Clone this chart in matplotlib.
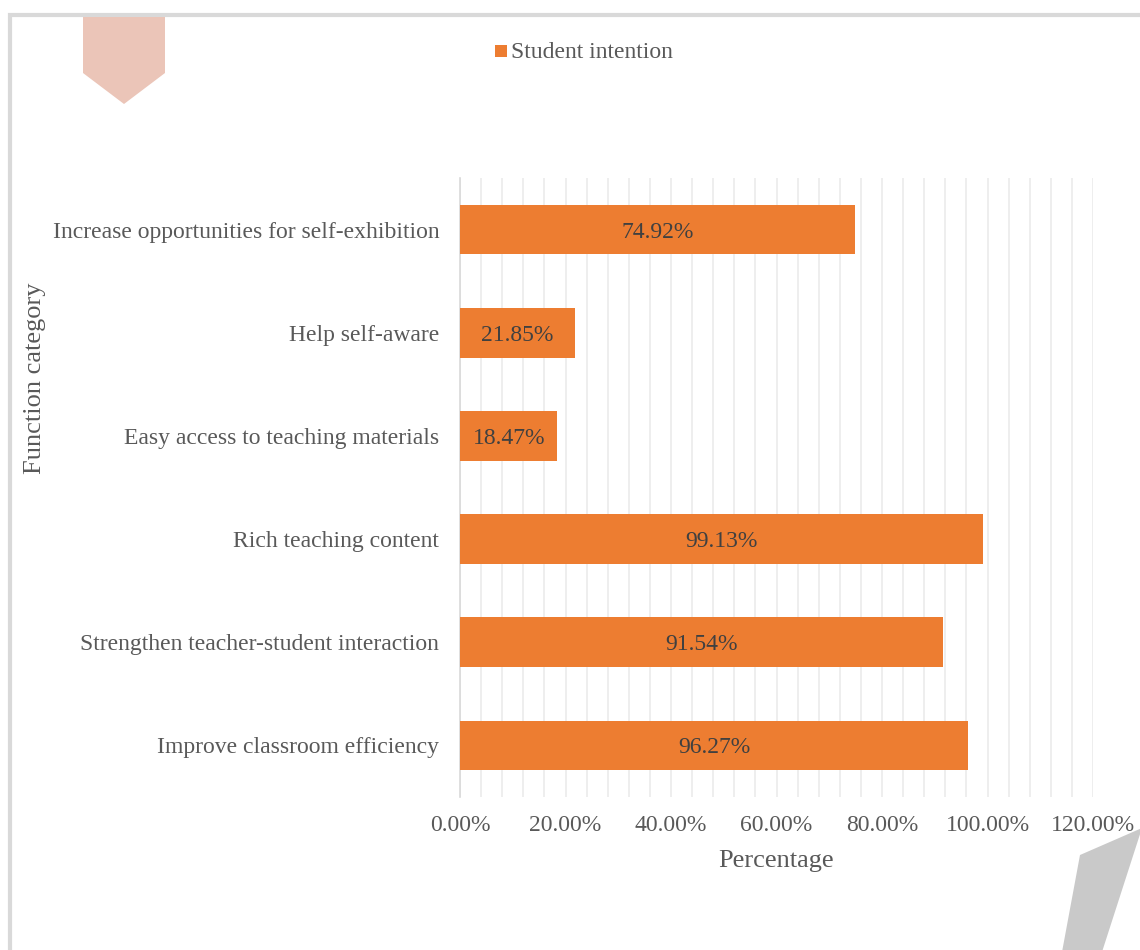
import matplotlib.pyplot as plt
from   matplotlib.patches import Polygon, Rectangle
from   matplotlib.ticker  import MultipleLocator, FuncFormatter

categories = ['Increase opportunities for self-exhibition',
              'Help self-aware',
              'Easy access to teaching materials',
              'Rich teaching content',
              'Strengthen teacher-student interaction',
              'Improve classroom efficiency']
values     = [74.92, 21.85, 18.47, 99.13, 91.54, 96.27]
series     = 'Student intention'

W, H   = 1140, 950
orange = '#ED7D31'
grey   = '#595959'

plt.rcParams['font.family'] = ['Liberation Serif', 'DejaVu Serif']

fig = plt.figure( figsize=(W/100, H/100), dpi=100 )

def px(x, y):
    '''pixel coords (top-left origin) -> figure fraction'''
    return x/W, 1 - y/H

# frame and decorative shapes
fig.patches.append( Rectangle( px(10, 1000), 1200/W, 985/H,
                               transform=fig.transFigure,
                               fill=False, edgecolor='#D9D9D9', linewidth=3 ) )
fig.patches.append( Polygon( [px(83, 17), px(165, 17), px(165, 73),
                              px(124, 104), px(83, 73)],
                             closed=True, transform=fig.transFigure,
                             facecolor='#EBC5B8', edgecolor='none' ) )
fig.patches.append( Polygon( [px(1142, 828), px(1080, 855), px(1062, 952),
                              px(1102, 952)],
                             closed=True, transform=fig.transFigure,
                             facecolor='#C9C9C9', edgecolor='none' ) )

ax = fig.add_axes( [460/W, 1 - 797/H, 633/W, 619/H] )

bars = ax.barh( categories, values, height=0.48, color=orange,
                label=series, zorder=3 )
for b, v in zip( bars, values ):
    ax.text( b.get_width()/2, b.get_y() + b.get_height()/2, f'{v:.2f}%',
             ha='center', va='center_baseline', fontsize=17, color='#404040',
             zorder=4 )

ax.set_xlim( 0, 120 )
ax.set_ylim( len(categories) - 0.5, -0.5 )
ax.xaxis.set_major_locator( MultipleLocator(20) )
ax.xaxis.set_minor_locator( MultipleLocator(4) )
ax.xaxis.set_major_formatter( FuncFormatter( lambda x, p: f'{x:.2f}%' ) )
ax.grid( axis='x', which='both', color='#EBEBEB', linewidth=1.2, zorder=0 )

for s in ['top', 'right', 'bottom']:
    ax.spines[s].set_visible(False)
ax.spines['left'].set_color('#D9D9D9')
ax.spines['left'].set_linewidth(1.2)

ax.tick_params( axis='both', which='both', length=0, labelsize=17,
                labelcolor=grey )
ax.tick_params( axis='x', pad=13 )
ax.tick_params( axis='y', pad=15 )

ax.set_xlabel( 'Percentage', fontsize=19, color=grey, labelpad=10 )
fig.text( *px(35, 378), 'Function category', rotation=90, fontsize=19,
          color=grey, ha='center', va='center' )

# legend
fig.patches.append( Rectangle( px(495, 57), 12/W, 12/H,
                               transform=fig.transFigure,
                               facecolor=orange, edgecolor='none' ) )
fig.text( *px(511, 52), series, fontsize=17, color=grey,
          ha='left', va='center' )

fig.savefig( 'out.png', dpi=100 )
